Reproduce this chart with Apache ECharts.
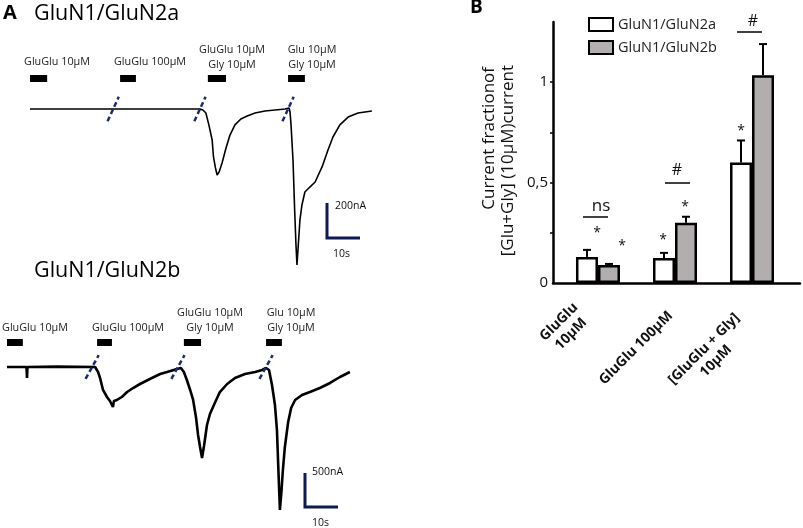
<!DOCTYPE html>
<html><head><meta charset="utf-8">
<script src="https://cdn.jsdelivr.net/npm/echarts@6/dist/echarts.min.js"></script>
<style>html,body{margin:0;padding:0;background:#fff}#c{width:803px;height:528px}</style>
</head><body><div id="c"></div>
<script>
// ---------- Panel A data: time (s), current (nA) ----------
const traceN2a = [
 [0,0],[12,0],[25,0],[40,0],[51.5,0],[52.4,-6],[53.3,-23],[54.2,-91],[55.2,-177],[55.6,-274],
 [56.2,-337],[56.7,-377],[57.3,-360],[58.2,-309],[59.4,-223],[60.6,-149],[62.1,-91],[63.9,-57],
 [65.8,-40],[68.2,-23],[71.2,-11],[77.3,0],[77.6,6],[78.5,6],[78.8,-17],[79.1,-91],[79.7,-291],
 [80.2,-577],[80.6,-777],[80.9,-891],[81.2,-806],[81.8,-634],[82.4,-549],[83.3,-474],[84.8,-446],
 [86.4,-417],[88.5,-331],[90.3,-234],[91.8,-160],[93.9,-91],[96.4,-46],[99.4,-23],[103.6,-11]
];
const traceN2b = [
 [0,0],[5.9,0],[6.06,-162],[6.2,0],[15,5],[26.7,0],[27.6,-74],[28.2,-162],[29.1,-338],[30.3,-441],
 [31.2,-500],[31.8,-515],[32.1,-588],[32.4,-500],[33.3,-485],[34.8,-441],[36.4,-368],[38.2,-309],
 [40.3,-250],[43.3,-176],[46.4,-103],[48.5,-74],[51.5,-29],[52.7,-15],[53.6,-74],[54.5,-191],
 [55.5,-338],[56.4,-485],[57.3,-750],[57.9,-1000],[58.5,-1176],[59.1,-1338],[59.7,-1162],
 [60.6,-853],[61.5,-691],[62.7,-559],[64.5,-368],[66.7,-250],[69.1,-162],[72.1,-103],[75.2,-74],
 [77.3,-44],[78.5,-15],[79.4,-44],[80.3,-265],[81.2,-559],[81.8,-926],[82.3,-1588],[82.7,-2103],
 [83.2,-1809],[83.6,-1515],[84.2,-1176],[85.2,-809],[86.1,-603],[87.3,-485],[89.4,-412],
 [91.8,-368],[94.8,-309],[97.9,-235],[100.9,-147],[103.9,-74]
];
const stimN2a = [[0,5.2],[27.3,32.1],[53.9,59.4],[78.2,83.3]];
const stimN2b = [[0,4.8],[27.3,31.8],[53.6,58.8],[78.5,83.3]];
const stimLabels = ['GluGlu 10μM','GluGlu 100μM','GluGlu 10μM\nGly 10μM','Glu 10μM\nGly 10μM'];
const breaksN2a = [25.2, 51.5, 78.2];
const breaksN2b = [25.8, 51.8, 78.5];
const scaleN2a = {nA:200, s:10, label:'200nA', tLabel:'10s'};
const scaleN2b = {nA:500, s:10, label:'500nA', tLabel:'10s'};

// ---------- Panel B data ----------
const categories = ['GluGlu\n10μM','GluGlu 100μM','[GluGlu + Gly]\n10μM'];
const seriesNames = ['GluN1/GluN2a','GluN1/GluN2b'];
const meanN2a = [0.13, 0.124, 0.60];
const semN2a  = [0.035, 0.026, 0.11];
const meanN2b = [0.09, 0.30, 1.035];
const semN2b  = [0.005, 0.03, 0.155];
const yTicks = [0, 0.5, 1];
const yTickMarks = [0.25, 0.5, 0.75, 1];
const yTitle = ['Current fractionof', '[Glu+Gly] (10μM)current'];

const FONT = '"Open Sans", "DejaVu Sans", sans-serif';
const NAVY = '#0f1a52';

function txt(x, y, text, size, opt) {
  opt = opt || {};
  return {type:'text', x:x, y:y, rotation: opt.rot || 0, z: 50,
    style:{text:text, fill: opt.color || '#111', font:(opt.weight||'normal')+' '+size+'px '+FONT,
      align: opt.align || 'center', textAlign: opt.align || 'center',
      verticalAlign: opt.va || 'middle', textVerticalAlign: opt.va || 'middle',
      lineHeight: opt.lh || Math.round(size*1.4)}};
}
function ln(x1, y1, x2, y2, w) {
  return {type:'line', z:50, shape:{x1:x1,y1:y1,x2:x2,y2:y2}, style:{stroke:'#000', lineWidth:w||1.5}};
}

function stimSeries(stim, level, ax) {
  return {type:'lines', coordinateSystem:'cartesian2d', xAxisIndex:ax, yAxisIndex:ax, polyline:false,
    silent:true, lineStyle:{color:'#000', width:7, opacity:1},
    data: stim.map(s => ({coords:[[s[0],level],[s[1],level]]}))};
}
function breakSeries(times, dt, dI, ax) {
  return {type:'lines', coordinateSystem:'cartesian2d', xAxisIndex:ax, yAxisIndex:ax, polyline:false,
    silent:true, z:5, lineStyle:{color:'#1b2b70', width:2.5, type:[5,3], opacity:1},
    data: times.map(t => ({coords:[[t-dt,-dI],[t+dt,dI]]}))};
}
function scaleSeries(sc, t0, iTop, ax) {
  return {type:'lines', coordinateSystem:'cartesian2d', xAxisIndex:ax, yAxisIndex:ax, polyline:true,
    silent:true, lineStyle:{color:NAVY, width:3, opacity:1},
    data:[{coords:[[t0,iTop],[t0,iTop-sc.nA],[t0+sc.s,iTop-sc.nA]]}]};
}
function errSeries(means, sems, off) {
  return {type:'custom', xAxisIndex:2, yAxisIndex:2, z:4, silent:true,
    data: means.map((v,i)=>[i, v, sems[i]]),
    renderItem: function(params, api){
      const x = api.value(0), v = api.value(1), e = api.value(2);
      const a = api.coord([x, v]), b = api.coord([x, v+e]);
      const cx = a[0] + off;
      return {type:'group', children:[
        {type:'line', shape:{x1:cx,y1:a[1],x2:cx,y2:b[1]}, style:{stroke:'#000', lineWidth:2}},
        {type:'line', shape:{x1:cx-4,y1:b[1],x2:cx+4,y2:b[1]}, style:{stroke:'#000', lineWidth:2}}
      ]};
    }};
}

const labelPosA = [[57,62],[150,62],[232,57.5],[312,57.5]];
const labelPosB = [[35,328],[128,328],[210,320.5],[291,320.5]];
const catPos = [[565,328],[636,348],[710,355]];

const graphic = [
  txt(3,13.5,'A',20,{align:'left',weight:'bold',color:'#000'}),
  txt(34,13.5,'GluN1/GluN2a',21.5,{align:'left',color:'#000'}),
  txt(34,271,'GluN1/GluN2b',21.5,{align:'left',color:'#000'}),
  txt(470,8,'B',19,{align:'left',weight:'bold',color:'#000'}),
  txt(335,206,scaleN2a.label,10.5,{align:'left'}),
  txt(333,254,scaleN2a.tLabel,10.5,{align:'left'}),
  txt(312,472,scaleN2b.label,10.5,{align:'left'}),
  txt(312,523,scaleN2b.tLabel,10.5,{align:'left'}),
  // Panel B y title (rotated, end-aligned at top)
  txt(489,67,yTitle[0],17,{rot:Math.PI/2,align:'right',color:'#111'}),
  txt(508,65,yTitle[1],17,{rot:Math.PI/2,align:'right',color:'#111'}),
  // significance marks
  txt(601,206,'ns',17,{color:'#111'}), ln(583,217,608,217,1.5),
  txt(677,170,'#',16,{color:'#111'}), ln(665,183,690,183,1.5),
  txt(753,21,'#',16,{color:'#111'}), ln(737,32,762,32,1.5),
  txt(597,233,'*',14), txt(622,246,'*',14), txt(663,240,'*',14), txt(685,207,'*',14), txt(741,131,'*',14)
];
stimLabels.forEach((s,i)=>{
  graphic.push(txt(labelPosA[i][0],labelPosA[i][1],s,10.8,{lh:15,color:'#222'}));
  graphic.push(txt(labelPosB[i][0],labelPosB[i][1],s,10.8,{lh:15,color:'#222'}));
});
categories.forEach((c,i)=>{
  graphic.push(txt(catPos[i][0],catPos[i][1],c,14,{rot:Math.PI/4,weight:'bold',lh:17,color:'#111'}));
});

const option = {
  animation:false,
  backgroundColor:'#fff',
  grid:[
    {left:30, top:39, width:343.2, height:227.5},
    {left:7, top:305.8, width:343.2, height:217.6},
    {left:553, top:22, width:247, height:261}
  ],
  xAxis:[
    {gridIndex:0, type:'value', min:0, max:104, show:false},
    {gridIndex:1, type:'value', min:0, max:104, show:false},
    {gridIndex:2, type:'value', min:-0.584, max:2.623,
      axisLine:{show:true, onZero:false, lineStyle:{color:'#000', width:2.5}},
      axisTick:{show:false}, axisLabel:{show:false}, splitLine:{show:false}}
  ],
  yAxis:[
    {gridIndex:0, type:'value', min:-900, max:400, show:false},
    {gridIndex:1, type:'value', min:-2300, max:900, show:false},
    {gridIndex:2, type:'value', min:0, max:1.3, interval:0.5,
      axisLine:{show:true, onZero:false, lineStyle:{color:'#000', width:2.5}},
      axisTick:{show:true, length:3, customValues:yTickMarks, lineStyle:{color:'#000', width:1.5}},
      axisLabel:{customValues:yTicks, fontSize:15, fontFamily:FONT, color:'#111', margin:5,
        formatter: v => String(v).replace('.', ',')},
      splitLine:{show:false}}
  ],
  legend:{data:seriesNames, orient:'vertical', left:583, top:12, itemWidth:24, itemHeight:13, itemGap:8,
    icon:'rect', selectedMode:false, textStyle:{fontSize:14.5, fontFamily:FONT, color:'#222'}},
  graphic: graphic,
  series:[
    {type:'line', xAxisIndex:0, yAxisIndex:0, data:traceN2a, symbol:'none', silent:true,
      lineStyle:{color:'#000', width:1.6}},
    {type:'line', xAxisIndex:1, yAxisIndex:1, data:traceN2b, symbol:'none', silent:true,
      lineStyle:{color:'#000', width:2.6}},
    stimSeries(stimN2a, 177, 0),
    stimSeries(stimN2b, 368, 1),
    breakSeries(breaksN2a, 1.7, 70, 0),
    breakSeries(breaksN2b, 2.0, 175, 1),
    scaleSeries(scaleN2a, 90, -537, 0),
    scaleSeries(scaleN2b, 90.3, -1559, 1),
    {name:seriesNames[0], type:'bar', xAxisIndex:2, yAxisIndex:2, barWidth:22, barGap:'0%',
      data: meanN2a.map((v,i)=>[i,v]),
      itemStyle:{color:'#ffffff', borderColor:'#000', borderWidth:2.5}},
    {name:seriesNames[1], type:'bar', xAxisIndex:2, yAxisIndex:2, barWidth:22, barGap:'0%',
      data: meanN2b.map((v,i)=>[i,v]),
      itemStyle:{color:'#b3aeae', borderColor:'#000', borderWidth:2.5}},
    errSeries(meanN2a, semN2a, -11),
    errSeries(meanN2b, semN2b, 11)
  ]
};
const chart = echarts.init(document.getElementById('c'), null, {renderer:'canvas'});
chart.setOption(option);
</script>
</body></html>
